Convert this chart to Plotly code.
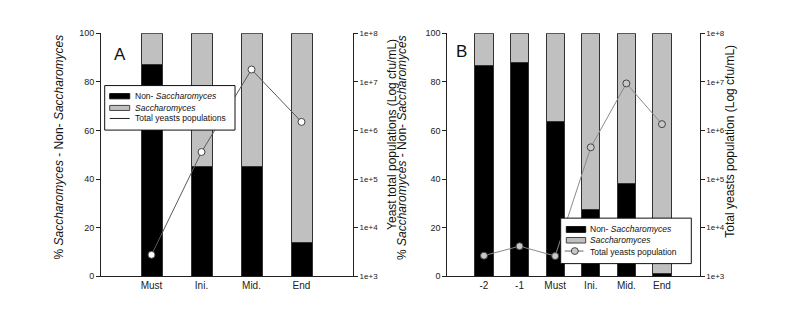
import plotly.graph_objects as go

# Panel A data
cats_a = ["Must", "Ini.", "Mid.", "End"]
non_sacch_a = [87, 45, 45, 14]
sacch_a = [13, 55, 55, 86]
total_a = [2750, 3.6e5, 1.8e7, 1.5e6]

# Panel B data
cats_b = ["-2", "-1", "Must", "Ini.", "Mid.", "End"]
non_sacch_b = [86.7, 87.8, 63.5, 27.5, 38, 1.3]
sacch_b = [13.3, 12.2, 36.5, 72.5, 62, 98.7]
total_b = [2650, 4150, 2600, 4.5e5, 9.3e6, 1.35e6]

log_ticks = [1e3, 1e4, 1e5, 1e6, 1e7, 1e8]
log_text = ["1e+3", "1e+4", "1e+5", "1e+6", "1e+7", "1e+8"]
pct_ticks = [0, 20, 40, 60, 80, 100]

legend_a = ["Non- <i>Saccharomyces</i>", "<i>Saccharomyces</i>", "Total yeasts populations"]
legend_b = ["Non- <i>Saccharomyces</i>", "<i>Saccharomyces</i>", "Total yeasts population"]
ytitle = "% <i>Saccharomyces</i> - Non- <i>Saccharomyces</i>"

BLACK = "#000000"
GRAY = "#c0c0c0"
FONT = "Liberation Sans, Arial, sans-serif"
W, H = 793, 309


def px(x):
    return x / W


def py(y):
    return 1 - y / H


fig = go.Figure()

# ---- Panel A ----
fig.add_trace(go.Bar(x=cats_a, y=non_sacch_a, name=legend_a[0],
                     marker=dict(color=BLACK, line=dict(color="#333", width=1)),
                     width=0.42, xaxis="x", yaxis="y"))
fig.add_trace(go.Bar(x=cats_a, y=sacch_a, name=legend_a[1],
                     marker=dict(color=GRAY, line=dict(color="#333", width=1)),
                     width=0.42, xaxis="x", yaxis="y"))
fig.add_trace(go.Scatter(x=cats_a, y=total_a, mode="lines+markers", name=legend_a[2],
                         line=dict(color="#5a5a5a", width=1),
                         marker=dict(symbol="circle", size=7, color="white",
                                     line=dict(color="#444", width=1)),
                         xaxis="x", yaxis="y2"))

# ---- Panel B ----
fig.add_trace(go.Bar(x=cats_b, y=non_sacch_b, name=legend_b[0],
                     marker=dict(color=BLACK, line=dict(color="#333", width=1)),
                     width=0.51, xaxis="x2", yaxis="y3"))
fig.add_trace(go.Bar(x=cats_b, y=sacch_b, name=legend_b[1],
                     marker=dict(color=GRAY, line=dict(color="#333", width=1)),
                     width=0.51, xaxis="x2", yaxis="y3"))
fig.add_trace(go.Scatter(x=cats_b, y=total_b, mode="lines+markers", name=legend_b[2],
                         line=dict(color="#8a8a8a", width=1),
                         marker=dict(symbol="circle", size=7, color="#c8c8c8",
                                     line=dict(color="#444", width=1)),
                         xaxis="x2", yaxis="y4"))

fig.update_traces(showlegend=False)

dom_a = [px(93), px(345)]
dom_b = [px(439.3), px(691.7)]
dom_y = [py(272), py(21)]

tickfont = dict(family=FONT, size=9, color="#222")


def xax(domain, anchor, rng):
    return dict(domain=domain, anchor=anchor, type="category", range=rng,
                showline=True, linecolor="#222", linewidth=1, ticks="",
                tickfont=dict(family=FONT, size=10, color="#222"), showgrid=False,
                zeroline=False)


def yleft(domain, anchor):
    return dict(domain=domain, anchor=anchor, range=[0, 100], tickvals=pct_ticks,
                showline=True, linecolor="#222", linewidth=1, ticks="outside",
                ticklen=4, tickcolor="#222", tickfont=tickfont, showgrid=False,
                zeroline=False)


def yright(overlay, anchor):
    return dict(overlaying=overlay, anchor=anchor, side="right", type="log",
                range=[3, 8], tickvals=log_ticks, ticktext=log_text,
                showline=True, linecolor="#222", linewidth=1, ticks="outside",
                ticklen=4, tickcolor="#222",
                tickfont=dict(family=FONT, size=8, color="#222"),
                showgrid=False, zeroline=False)


shapes = []
annotations = []


def add_text(text, x, y, size=9, angle=0, xanchor="left"):
    annotations.append(dict(text=text, x=px(x), y=py(y), xref="paper", yref="paper",
                            showarrow=False, textangle=angle, xanchor=xanchor,
                            yanchor="middle", font=dict(family=FONT, size=size, color="#111")))


def rect(x0, y0, x1, y1, fill, lw=1, lc="#111"):
    shapes.append(dict(type="rect", xref="paper", yref="paper", x0=px(x0), x1=px(x1),
                       y0=py(y1), y1=py(y0), fillcolor=fill,
                       line=dict(color=lc, width=lw), layer="above"))


def hline(x0, x1, y, color, lw=1):
    shapes.append(dict(type="line", xref="paper", yref="paper", x0=px(x0), x1=px(x1),
                       y0=py(y), y1=py(y), line=dict(color=color, width=lw), layer="above"))


# Legend A
rect(96.7, 75, 227, 121, "white")
rect(101.7, 83.3, 121.7, 88.7, BLACK, lc="#111")
rect(101.7, 95.5, 121.7, 100.7, GRAY, lc="#444")
hline(101.7, 121.7, 109, "#222")
for txt, yy in zip(legend_a, [86, 98, 109]):
    add_text(txt, 124.5, yy, size=8.5)

# Legend B
rect(552.7, 212, 683.3, 259, "white")
rect(558.3, 220.7, 577.7, 226.7, BLACK, lc="#111")
rect(558.3, 232, 577.7, 237.7, GRAY, lc="#444")
hline(556.7, 575.5, 246, "#666")
shapes.append(dict(type="circle", xref="paper", yref="paper",
                   x0=px(563.3), x1=px(570.3), y0=py(249.5), y1=py(242.5),
                   fillcolor="#c8c8c8", line=dict(color="#444", width=1), layer="above"))
for txt, yy in zip(legend_b, [223.7, 235, 246.5]):
    add_text(txt, 579.5, yy, size=8.5)

# Axis titles (rotated)
add_text(ytitle, 51, 139, size=12, angle=-90, xanchor="center")
add_text("Yeast total populations (Log cfu/mL)", 384, 126, size=12, angle=-90, xanchor="center")
add_text(ytitle, 393.5, 139, size=12, angle=-90, xanchor="center")
add_text("Total yeasts population (Log cfu/mL)", 722, 133, size=12, angle=-90, xanchor="center")

# Panel letters
add_text("A", 112, 43, size=17, xanchor="center")
add_text("B", 453, 40, size=17, xanchor="center")

fig.update_layout(
    width=W, height=H,
    margin=dict(l=0, r=0, t=0, b=0),
    paper_bgcolor="white", plot_bgcolor="white",
    barmode="stack",
    showlegend=False,
    font=dict(family=FONT, color="#111"),
    xaxis=xax(dom_a, "y", [-1.01, 4.03]),
    yaxis=yleft(dom_y, "x"),
    yaxis2=yright("y", "x"),
    xaxis2=xax(dom_b, "y3", [-1.03, 6.06]),
    yaxis3=yleft(dom_y, "x2"),
    yaxis4=yright("y3", "x2"),
    shapes=shapes,
    annotations=annotations,
)

fig.write_html("out.html")
